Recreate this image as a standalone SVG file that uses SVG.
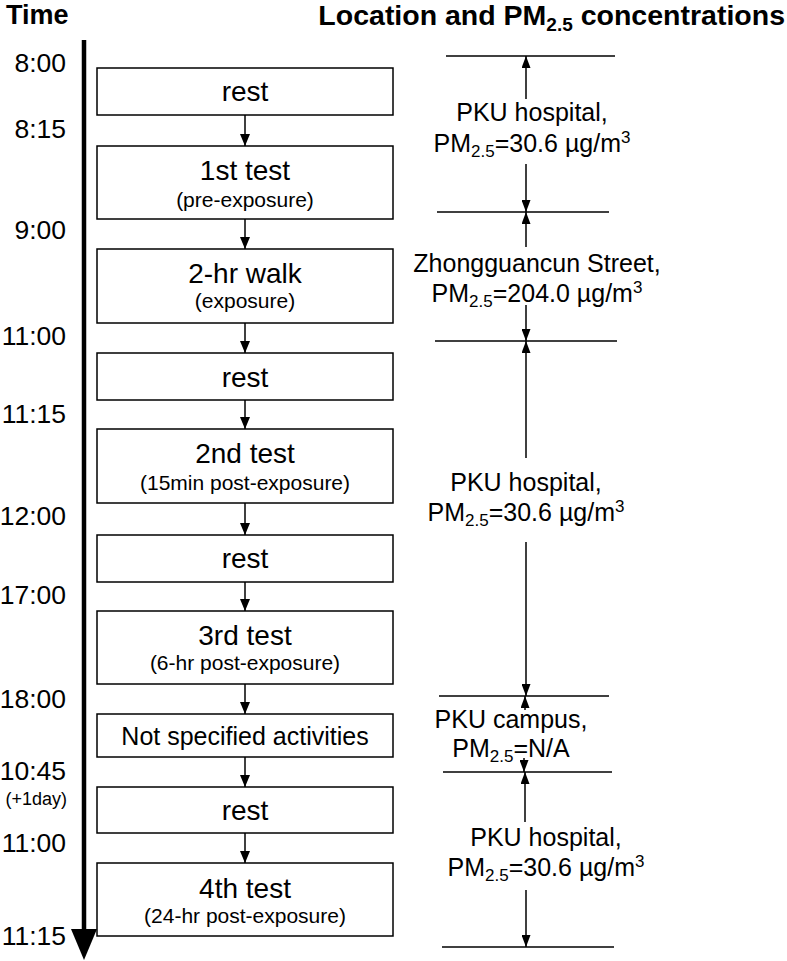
<svg xmlns="http://www.w3.org/2000/svg" width="787" height="961" viewBox="0 0 787 961">
<defs>
<marker id="ah" markerUnits="userSpaceOnUse" markerWidth="12" markerHeight="10" refX="12" refY="5" orient="auto">
<path d="M0,0 L12,5 L0,10 z" fill="#000"/>
</marker>
<marker id="ahs" markerUnits="userSpaceOnUse" markerWidth="12" markerHeight="9" refX="12" refY="4.5" orient="auto">
<path d="M0,0 L12,4.5 L0,9 z" fill="#000"/>
</marker>
<style>
text{font-family:"Liberation Sans",Arial,sans-serif;fill:#000}
.hd{font-size:27px;font-weight:bold}
.hd2{font-size:28.5px;font-weight:bold;text-anchor:end}
.tm{font-size:26.5px;text-anchor:end}
.sm{font-size:18px;text-anchor:end}
.bx{fill:#fff;stroke:#000;stroke-width:1.5}
.mt{font-size:28px;text-anchor:middle}
.mt2{font-size:25px;text-anchor:middle}
.st{font-size:21px;text-anchor:middle}
.lb{font-size:25px;text-anchor:middle}
.cn{stroke:#000;stroke-width:1.5;fill:none;marker-end:url(#ah)}
.dm{stroke:#000;stroke-width:1.5;fill:none;marker-end:url(#ahs)}
.hl{stroke:#000;stroke-width:1.5}
</style>
</defs>
<rect width="787" height="961" fill="#fff"/>

<g id="headers">
<text class="hd" x="6" y="24">Time</text>
<text class="hd2" x="785" y="25">Location and PM<tspan style="font-size:19px" dy="6">2.5</tspan><tspan dy="-6"> concentrations</tspan></text>
</g>

<g id="timeline">
<line x1="84" y1="40" x2="84" y2="932" stroke="#000" stroke-width="4.5"/>
<polygon points="71,929 97,929 84,960" fill="#000"/>
<text class="tm" x="66" y="72">8:00</text>
<text class="tm" x="66" y="138">8:15</text>
<text class="tm" x="66" y="239">9:00</text>
<text class="tm" x="66" y="345">11:00</text>
<text class="tm" x="66" y="423">11:15</text>
<text class="tm" x="66" y="525">12:00</text>
<text class="tm" x="66" y="604">17:00</text>
<text class="tm" x="66" y="708">18:00</text>
<text class="tm" x="66" y="780">10:45</text>
<text class="sm" x="67" y="805">(+1day)</text>
<text class="tm" x="66" y="852">11:00</text>
<text class="tm" x="66" y="945">11:15</text>
</g>

<g id="n1"><rect class="bx" x="97" y="68" width="296" height="47"/><text class="mt" x="245" y="101">rest</text></g>
<g id="n2"><rect class="bx" x="97" y="146" width="296" height="73"/><text class="mt" x="245" y="180">1st test</text><text class="st" x="245" y="207">(pre-exposure)</text></g>
<g id="n3"><rect class="bx" x="97" y="249" width="296" height="74"/><text class="mt" x="245" y="283">2-hr walk</text><text class="st" x="245" y="308">(exposure)</text></g>
<g id="n4"><rect class="bx" x="97" y="353" width="296" height="47"/><text class="mt" x="245" y="387">rest</text></g>
<g id="n5"><rect class="bx" x="97" y="429" width="296" height="74"/><text class="mt" x="245" y="463">2nd test</text><text class="st" x="245" y="490">(15min post-exposure)</text></g>
<g id="n6"><rect class="bx" x="97" y="535" width="296" height="47"/><text class="mt" x="245" y="568">rest</text></g>
<g id="n7"><rect class="bx" x="97" y="611" width="296" height="73"/><text class="mt" x="245" y="645">3rd test</text><text class="st" x="245" y="670">(6-hr post-exposure)</text></g>
<g id="n8"><rect class="bx" x="97" y="714" width="296" height="43"/><text class="mt2" x="245" y="745">Not specified activities</text></g>
<g id="n9"><rect class="bx" x="97" y="787" width="296" height="46"/><text class="mt" x="245" y="820">rest</text></g>
<g id="n10"><rect class="bx" x="97" y="863" width="296" height="73"/><text class="mt" x="245" y="898">4th test</text><text class="st" x="245" y="923">(24-hr post-exposure)</text></g>

<g id="connectors">
<line class="cn" x1="245" y1="115" x2="245" y2="146"/>
<line class="cn" x1="245" y1="219" x2="245" y2="249"/>
<line class="cn" x1="245" y1="323" x2="245" y2="353"/>
<line class="cn" x1="245" y1="400" x2="245" y2="429"/>
<line class="cn" x1="245" y1="503" x2="245" y2="535"/>
<line class="cn" x1="245" y1="582" x2="245" y2="611"/>
<line class="cn" x1="245" y1="684" x2="245" y2="714"/>
<line class="cn" x1="245" y1="757" x2="245" y2="787"/>
<line class="cn" x1="245" y1="833" x2="245" y2="863"/>
</g>

<g id="locations">
<line class="hl" x1="446" y1="56" x2="615" y2="56"/>
<line class="hl" x1="437" y1="212" x2="609" y2="212"/>
<line class="hl" x1="435" y1="341" x2="617" y2="341"/>
<line class="hl" x1="439" y1="696" x2="609" y2="696"/>
<line class="hl" x1="443" y1="772" x2="612" y2="772"/>
<line class="hl" x1="442" y1="947" x2="614" y2="947"/>

<line class="dm" x1="526" y1="99" x2="526" y2="56"/>
<line class="dm" x1="526" y1="164" x2="526" y2="212"/>
<line class="dm" x1="526" y1="247" x2="526" y2="212"/>
<line class="dm" x1="526" y1="305" x2="526" y2="341"/>
<line class="dm" x1="526" y1="458" x2="526" y2="341"/>
<line class="dm" x1="526" y1="542" x2="526" y2="696"/>
<line class="dm" x1="525" y1="710" x2="525" y2="696"/>
<line class="dm" x1="524" y1="758" x2="524" y2="772"/>
<line class="dm" x1="525" y1="822" x2="525" y2="772"/>
<line class="dm" x1="526" y1="890" x2="526" y2="947"/>

<g id="loc1"><text class="lb" x="532" y="121">PKU hospital,</text><text class="lb" x="532" y="152">PM<tspan style="font-size:17px" dy="5">2.5</tspan><tspan dy="-5">=30.6 µg/m</tspan><tspan style="font-size:17px" dy="-9">3</tspan></text></g>
<g id="loc2"><text class="lb" x="537" y="272">Zhongguancun Street,</text><text class="lb" x="537" y="302">PM<tspan style="font-size:17px" dy="5">2.5</tspan><tspan dy="-5">=204.0 µg/m</tspan><tspan style="font-size:17px" dy="-9">3</tspan></text></g>
<g id="loc3"><text class="lb" x="526" y="491">PKU hospital,</text><text class="lb" x="526" y="521">PM<tspan style="font-size:17px" dy="5">2.5</tspan><tspan dy="-5">=30.6 µg/m</tspan><tspan style="font-size:17px" dy="-9">3</tspan></text></g>
<g id="loc4"><text class="lb" x="511" y="728">PKU campus,</text><text class="lb" x="511" y="757">PM<tspan style="font-size:17px" dy="5">2.5</tspan><tspan dy="-5">=N/A</tspan></text></g>
<g id="loc5"><text class="lb" x="546" y="846">PKU hospital,</text><text class="lb" x="546" y="876">PM<tspan style="font-size:17px" dy="5">2.5</tspan><tspan dy="-5">=30.6 µg/m</tspan><tspan style="font-size:17px" dy="-9">3</tspan></text></g>
</g>
</svg>
